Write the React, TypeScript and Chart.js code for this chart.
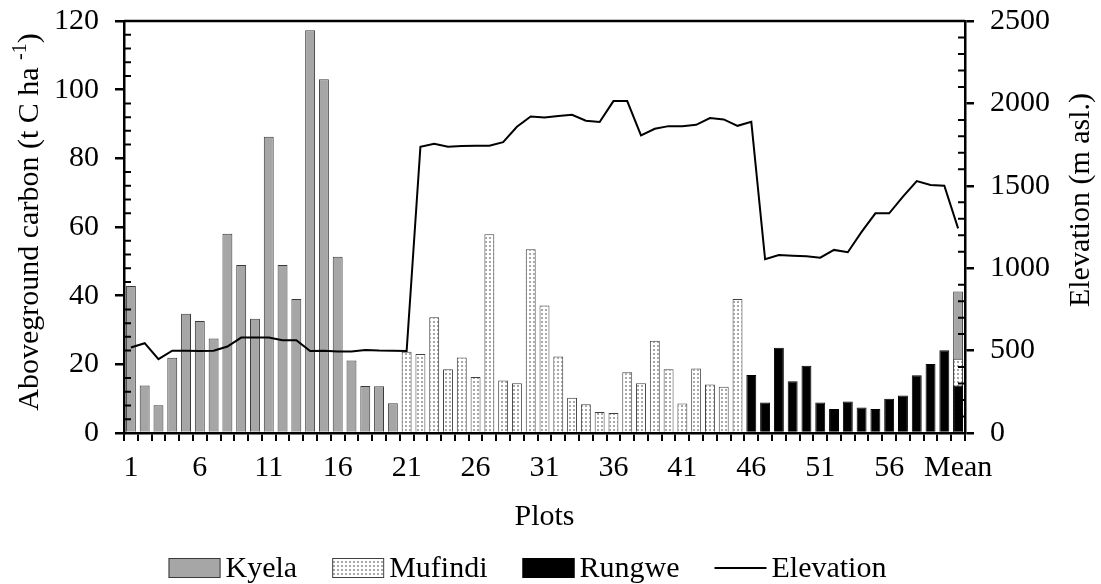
import React, { useEffect, useRef } from 'react';
import { Chart, registerables } from 'chart.js';

Chart.register(...registerables);

const FONT = "'Times New Roman', 'Liberation Serif', 'DejaVu Serif', serif";

// Category labels (plots 1..60 plus the mean)
const plotLabels: string[] = [
  '1', '2', '3', '4', '5', '6', '7', '8', '9', '10',
  '11', '12', '13', '14', '15', '16', '17', '18', '19', '20',
  '21', '22', '23', '24', '25', '26', '27', '28', '29', '30',
  '31', '32', '33', '34', '35', '36', '37', '38', '39', '40',
  '41', '42', '43', '44', '45', '46', '47', '48', '49', '50',
  '51', '52', '53', '54', '55', '56', '57', '58', '59', '60',
  'Mean',
];

// Aboveground carbon (t C ha-1)
const kyelaCarbon = [42.8, 13.8, 8.1, 21.9, 34.7, 32.6, 27.5, 58.0, 48.9, 33.3, 86.3, 48.9, 39.0, 117.3, 103.0, 51.3, 21.1, 13.7, 13.6, 8.7];
const mufindiCarbon = [23.7, 23.0, 33.7, 18.6, 22.0, 16.3, 57.9, 15.3, 14.5, 53.5, 37.1, 22.3, 10.3, 8.4, 6.1, 5.8, 17.7, 14.5, 26.9, 18.6, 8.6, 18.8, 14.1, 13.5, 39.0];
const rungweCarbon = [16.9, 8.9, 24.8, 15.1, 19.6, 8.9, 7.0, 9.2, 7.4, 7.0, 10.0, 10.9, 16.8, 20.1, 24.1];
const kyelaMean = 41.2;
const mufindiMean = 21.6;
const rungweMean = 13.8;

// Elevation (m asl.), one value per plot plus the mean
const elevation = [
  519, 545, 448, 499, 499, 497, 499, 525, 579, 579,
  579, 563, 563, 497, 499, 495, 495, 503, 500, 499,
  497, 1737, 1755, 1737, 1741, 1743, 1743, 1765, 1858, 1921,
  1915, 1923, 1931, 1895, 1887, 2014, 2014, 1806, 1846, 1862,
  1862, 1870, 1911, 1903, 1864, 1888, 1054, 1080, 1076, 1072,
  1064, 1111, 1097, 1220, 1333, 1333, 1434, 1529, 1505, 1501,
  1242,
];

// Axis ticks
const xTickShown = ['1', '6', '11', '16', '21', '26', '31', '36', '41', '46', '51', '56', 'Mean'];
const leftMax = 120;
const leftMajor = 20;
const leftMinor = 4;
const rightMax = 2500;
const rightMajor = 500;
const rightMinor = 100;

const nKyela = kyelaCarbon.length;
const nMufindi = mufindiCarbon.length;
const meanIndex = plotLabels.length - 1;

const kyelaSeries = plotLabels.map((_, i) => (i < nKyela ? kyelaCarbon[i] : i === meanIndex ? kyelaMean : null));
const mufindiSeries = plotLabels.map((_, i) =>
  i >= nKyela && i < nKyela + nMufindi ? mufindiCarbon[i - nKyela] : i === meanIndex ? mufindiMean : null
);
const rungweSeries = plotLabels.map((_, i) =>
  i >= nKyela + nMufindi && i < meanIndex ? rungweCarbon[i - nKyela - nMufindi] : i === meanIndex ? rungweMean : null
);

const axisDecor = {
  id: 'axisDecor',
  afterDraw(chart: any) {
    const { ctx, chartArea: a, scales } = chart;
    const yL = scales.y;
    const yR = scales.y1;
    ctx.save();
    ctx.strokeStyle = '#000';
    ctx.lineWidth = 2;
    ctx.beginPath();
    for (let v = leftMinor; v < leftMax; v += leftMinor) {
      if (v % leftMajor === 0) continue;
      const py = yL.getPixelForValue(v);
      ctx.moveTo(a.left, py);
      ctx.lineTo(a.left + 7, py);
    }
    for (let v = rightMinor; v < rightMax; v += rightMinor) {
      if (v % rightMajor === 0) continue;
      const py = yR.getPixelForValue(v);
      ctx.moveTo(a.right - 7, py);
      ctx.lineTo(a.right, py);
    }
    ctx.stroke();
    // top border of the plot area
    ctx.lineWidth = 2.5;
    ctx.beginPath();
    ctx.moveTo(a.left, a.top);
    ctx.lineTo(a.right, a.top);
    ctx.stroke();

    // left axis title with superscript
    ctx.fillStyle = '#000';
    ctx.textBaseline = 'alphabetic';
    ctx.textAlign = 'left';
    ctx.save();
    ctx.translate(a.left - 96, (a.top + a.bottom) / 2 - 5);
    ctx.rotate(-Math.PI / 2);
    const main = 'Aboveground carbon (t C ha ';
    const sup = '-1';
    const close = ')';
    ctx.font = `30px ${FONT}`;
    const w1 = ctx.measureText(main).width;
    const w3 = ctx.measureText(close).width;
    ctx.font = `20px ${FONT}`;
    const w2 = ctx.measureText(sup).width;
    const x0 = -(w1 + w2 + w3) / 2;
    ctx.font = `30px ${FONT}`;
    ctx.fillText(main, x0, 10);
    ctx.font = `20px ${FONT}`;
    ctx.fillText(sup, x0 + w1, -2);
    ctx.font = `30px ${FONT}`;
    ctx.fillText(close, x0 + w1 + w2, 10);
    ctx.restore();

    // right axis title (reads bottom to top)
    ctx.save();
    ctx.translate(a.right + 114, a.top + 179);
    ctx.rotate(-Math.PI / 2);
    ctx.font = `30px ${FONT}`;
    ctx.textAlign = 'center';
    ctx.fillText('Elevation (m asl.)', 0, 10);
    ctx.restore();

    // legend row below the axis title
    const boxW = 52;
    const boxH = 20;
    const textGap = 5;
    const itemGap = 35;
    ctx.font = `30px ${FONT}`;
    const items = chart.data.datasets.map((ds: any) => ({
      label: ds.label as string,
      isLine: ds.type === 'line',
      fill: ds.backgroundColor,
      stroke: ds.borderColor,
      tw: ctx.measureText(ds.label).width,
    }));
    const total = items.reduce((s: number, it: any) => s + boxW + textGap + it.tw, 0) + itemGap * (items.length - 1);
    let lx = (a.left + a.right) / 2 - 17 - total / 2;
    const cy = chart.height - 16;
    ctx.textAlign = 'left';
    ctx.textBaseline = 'middle';
    items.forEach((it: any) => {
      if (it.isLine) {
        ctx.strokeStyle = it.stroke;
        ctx.lineWidth = 2;
        ctx.beginPath();
        ctx.moveTo(lx, cy);
        ctx.lineTo(lx + boxW, cy);
        ctx.stroke();
      } else {
        ctx.fillStyle = it.fill;
        ctx.fillRect(lx, cy - boxH / 2, boxW, boxH);
        ctx.strokeStyle = it.stroke;
        ctx.lineWidth = 1;
        ctx.strokeRect(lx + 0.5, cy - boxH / 2 + 0.5, boxW - 1, boxH - 1);
      }
      ctx.fillStyle = '#000';
      ctx.fillText(it.label, lx + boxW + textGap, cy + 1);
      lx += boxW + textGap + it.tw + itemGap;
    });

    ctx.restore();
  },
};

export default function App() {
  const ref = useRef<HTMLCanvasElement | null>(null);

  useEffect(() => {
    document.body.style.margin = '0';
    const canvas = ref.current;
    if (!canvas) return;
    const ctx2d = canvas.getContext('2d');
    if (!ctx2d) return;

    const tile = document.createElement('canvas');
    tile.width = 4;
    tile.height = 4;
    const tg = tile.getContext('2d');
    let dots: any = '#e0e0e0';
    if (tg) {
      tg.fillStyle = '#ffffff';
      tg.fillRect(0, 0, 4, 4);
      tg.fillStyle = '#a8a8a8';
      tg.fillRect(1, 1, 2, 2);
      dots = ctx2d.createPattern(tile, 'repeat') || dots;
    }

    Chart.defaults.font.family = FONT;
    Chart.defaults.font.size = 30;
    Chart.defaults.color = '#000';

    const noPad = (s: any) => {
      s.paddingTop = 0;
      s.paddingBottom = 0;
    };

    const chart = new Chart(canvas, {
      type: 'bar',
      data: {
        labels: plotLabels,
        datasets: [
          {
            type: 'bar',
            label: 'Kyela',
            data: kyelaSeries,
            backgroundColor: '#a6a6a6',
            borderColor: '#3a3a3a',
            borderWidth: 1,
            yAxisID: 'y',
            order: 3,
            grouped: false,
            barPercentage: 0.72,
            categoryPercentage: 1,
          } as any,
          {
            type: 'bar',
            label: 'Mufindi',
            data: mufindiSeries,
            backgroundColor: dots,
            borderColor: '#404040',
            borderWidth: 1,
            yAxisID: 'y',
            order: 2,
            grouped: false,
            barPercentage: 0.72,
            categoryPercentage: 1,
          } as any,
          {
            type: 'bar',
            label: 'Rungwe',
            data: rungweSeries,
            backgroundColor: '#000000',
            borderColor: '#000000',
            borderWidth: 1,
            yAxisID: 'y',
            order: 1,
            grouped: false,
            barPercentage: 0.72,
            categoryPercentage: 1,
          } as any,
          {
            type: 'line',
            label: 'Elevation',
            data: elevation,
            borderColor: '#000000',
            backgroundColor: '#000000',
            borderWidth: 2,
            pointRadius: 0,
            tension: 0,
            fill: false,
            yAxisID: 'y1',
            order: 0,
          } as any,
        ],
      },
      options: {
        responsive: false,
        animation: false,
        devicePixelRatio: 1,
        layout: { padding: { top: 21, bottom: 0, left: 0, right: 0 } },
        plugins: {
          tooltip: { enabled: false },
          legend: { display: false },
        },
        scales: {
          x: {
            type: 'category',
            offset: true,
            grid: {
              offset: true,
              drawOnChartArea: false,
              drawTicks: true,
              tickLength: 8,
              color: '#000',
              lineWidth: 2,
            },
            border: { color: '#000', width: 2.5 },
            ticks: {
              autoSkip: false,
              maxRotation: 0,
              minRotation: 0,
              padding: 9,
              color: '#000',
              font: { family: FONT, size: 30 },
              callback: (_v: any, idx: number) => (xTickShown.includes(plotLabels[idx]) ? plotLabels[idx] : ''),
            },
            title: {
              display: true,
              text: 'Plots',
              color: '#000',
              font: { family: FONT, size: 30 },
              padding: { top: 0, bottom: 49 },
            },
            afterFit: (s: any) => {
              s.height = 151;
            },
          },
          y: {
            position: 'left',
            min: 0,
            max: leftMax,
            grid: { drawOnChartArea: false, tickLength: 9, color: '#000', lineWidth: 2.5 },
            border: { color: '#000', width: 2.5 },
            ticks: {
              stepSize: leftMajor,
              padding: 16,
              color: '#000',
              font: { family: FONT, size: 30 },
              callback: (v: any) => String(v),
            },
            afterFit: (s: any) => {
              s.width = 124;
              noPad(s);
            },
          },
          y1: {
            position: 'right',
            min: 0,
            max: rightMax,
            grid: { drawOnChartArea: false, tickLength: 9, color: '#000', lineWidth: 2.5 },
            border: { color: '#000', width: 2.5 },
            ticks: {
              stepSize: rightMajor,
              padding: 16,
              color: '#000',
              font: { family: FONT, size: 30 },
              callback: (v: any) => String(v),
            },
            afterFit: (s: any) => {
              s.width = 136;
              noPad(s);
            },
          },
        },
      },
      plugins: [axisDecor],
    } as any);

    return () => {
      chart.destroy();
    };
  }, []);

  return (
    <div style={{ width: 1101, height: 584, background: '#fff' }}>
      <canvas ref={ref} width={1101} height={584} style={{ display: 'block', width: 1101, height: 584 }} />
    </div>
  );
}
